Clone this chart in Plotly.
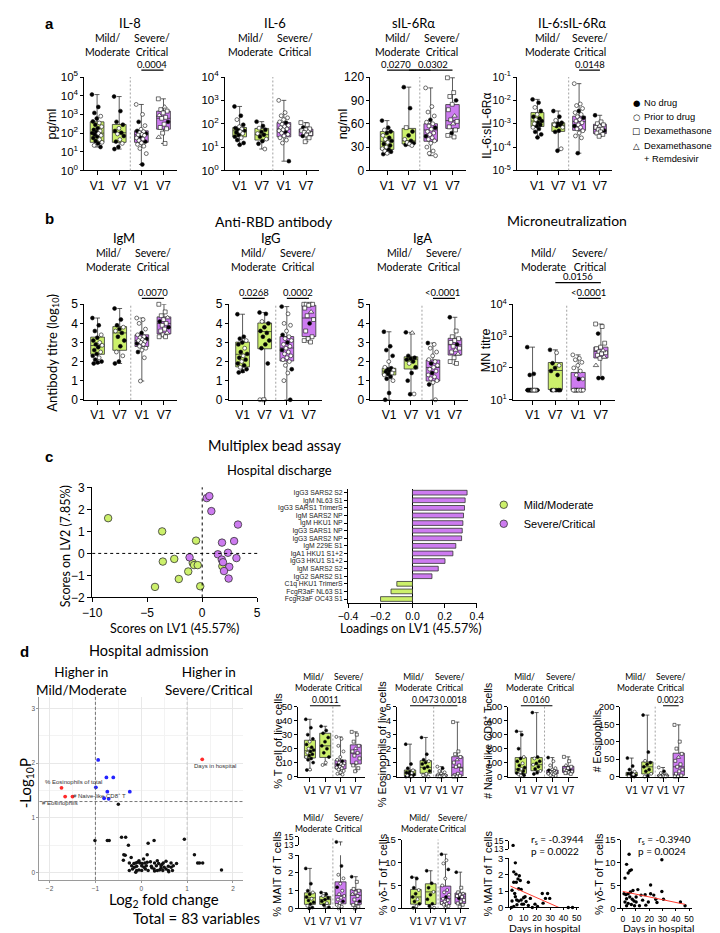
import plotly.graph_objects as go

W, H = 720, 933
GREEN = "#ccf06b"
PURPLE = "#cd7bf0"
ARIAL = "Liberation Sans, Arial, sans-serif"
CAL = "Lato, Open Sans, sans-serif"
GROUPS = ["V1", "V7", "V1", "V7"]

# ================= DATA =================
# box stats per group: (min, q1, median, q3, max); points: (value, treatment)
# treatment: N no drug, P prior to drug, D dexamethasone, R dexamethasone + remdesivir
il8_box = [(18, 32, 100, 400, 11500), (14, 32, 105, 290, 9000), (2.1, 32, 81, 132, 3400), (28, 162, 620, 1500, 6800)]
il8_pts = [
    [(11500,'N'),(2500,'N'),(1200,'N'),(800,'P'),(600,'N'),(420,'N'),(350,'P'),(280,'N'),(220,'P'),(180,'N'),(150,'N'),(130,'P'),(115,'N'),(100,'N'),(95,'P'),(85,'N'),(75,'P'),(65,'N'),(55,'N'),(45,'P'),(38,'N'),(32,'P'),(28,'N'),(22,'P'),(18,'N')],
    [(9000,'N'),(1500,'N'),(400,'N'),(280,'N'),(180,'P'),(130,'N'),(105,'N'),(90,'P'),(70,'N'),(45,'P'),(35,'N'),(28,'P'),(18,'N'),(14,'N')],
    [(3400,'P'),(1000,'P'),(400,'N'),(250,'P'),(160,'P'),(130,'N'),(120,'P'),(105,'P'),(95,'N'),(85,'P'),(80,'P'),(75,'P'),(65,'N'),(55,'P'),(48,'P'),(40,'P'),(35,'N'),(30,'P'),(25,'P'),(20,'P'),(15,'P'),(8,'P'),(2.1,'N')],
    [(6800,'D'),(2500,'R'),(1800,'D'),(1500,'D'),(1200,'D'),(900,'R'),(700,'D'),(620,'D'),(400,'N'),(300,'D'),(200,'D'),(170,'D'),(100,'D'),(60,'R'),(28,'D')],
]
il6_box = [(12.6, 27.5, 50, 69, 550), (8.3, 20, 34, 63, 123), (2.5, 27.5, 59, 112, 1000), (17, 30, 47, 59, 112)]
il6_pts = [
    [(550,'N'),(220,'N'),(150,'P'),(90,'N'),(75,'P'),(65,'N'),(60,'P'),(55,'N'),(50,'N'),(46,'P'),(42,'N'),(38,'P'),(33,'N'),(28,'N'),(25,'P'),(20,'N'),(15,'N'),(12.6,'N')],
    [(123,'N'),(80,'N'),(65,'P'),(55,'N'),(45,'N'),(38,'P'),(34,'N'),(28,'N'),(22,'P'),(18,'N'),(14,'N'),(8.3,'P')],
    [(1000,'P'),(300,'P'),(220,'P'),(180,'P'),(150,'P'),(120,'P'),(110,'N'),(95,'P'),(85,'P'),(75,'P'),(68,'P'),(60,'P'),(55,'P'),(50,'P'),(45,'N'),(40,'P'),(35,'P'),(30,'P'),(25,'P'),(20,'P'),(15,'P'),(2.5,'N')],
    [(112,'D'),(90,'D'),(70,'N'),(60,'D'),(55,'D'),(50,'D'),(46,'R'),(42,'D'),(38,'D'),(33,'D'),(30,'N'),(25,'D'),(17,'D')],
]
sil_box = [(21, 27, 37.5, 50, 64), (32, 34, 38, 54, 107), (19, 37.5, 52, 60, 106), (43, 54, 64, 84.6, 119)]
sil_pts = [
    [(64,'N'),(55,'N'),(52,'P'),(50,'N'),(48,'N'),(45,'P'),(42,'N'),(40,'P'),(38,'N'),(36,'P'),(34,'N'),(32,'N'),(30,'P'),(28,'P'),(27,'N'),(25,'P'),(24,'N'),(22,'P'),(21,'N')],
    [(107,'N'),(80,'N'),(55,'D'),(50,'N'),(45,'N'),(40,'P'),(38,'N'),(36,'P'),(35,'N'),(34,'P'),(33,'N'),(32,'P')],
    [(106,'P'),(82,'P'),(75,'P'),(70,'P'),(65,'N'),(62,'P'),(60,'P'),(57,'P'),(55,'N'),(53,'P'),(50,'P'),(48,'P'),(46,'P'),(44,'N'),(42,'P'),(40,'P'),(38,'P'),(35,'P'),(30,'P'),(25,'P'),(22,'P'),(19,'P')],
    [(119,'D'),(100,'D'),(95,'D'),(90,'N'),(85,'D'),(78,'D'),(70,'R'),(65,'D'),(63,'D'),(60,'R'),(56,'D'),(52,'D'),(48,'N'),(45,'D'),(43,'D')],
]
rat_box = [(2.6e-4, 7.6e-4, 1.3e-3, 3e-3, 1.1e-2), (7e-5, 4.7e-4, 8.7e-4, 1.1e-3, 3.5e-3), (5.5e-5, 5.2e-4, 1.23e-3, 2.1e-3, 5.2e-2), (2.9e-4, 3.8e-4, 5.9e-4, 9.5e-4, 2.3e-3)]
rat_pts = [
    [(1.1e-2,'N'),(8e-3,'N'),(5e-3,'P'),(3.5e-3,'N'),(2.5e-3,'P'),(2e-3,'N'),(1.7e-3,'N'),(1.5e-3,'P'),(1.3e-3,'N'),(1.1e-3,'N'),(1e-3,'P'),(9e-4,'N'),(8e-4,'N'),(7e-4,'P'),(6e-4,'N'),(4.5e-4,'N'),(3.5e-4,'N'),(2.6e-4,'N')],
    [(3.5e-3,'N'),(2e-3,'N'),(1.4e-3,'P'),(1.1e-3,'N'),(1e-3,'N'),(9e-4,'P'),(8.7e-4,'N'),(8e-4,'N'),(7e-4,'P'),(5e-4,'N'),(4.5e-4,'N'),(8.5e-5,'P'),(7e-5,'N')],
    [(5.2e-2,'P'),(7e-3,'P'),(6e-3,'P'),(4.5e-3,'P'),(3.5e-3,'N'),(3e-3,'P'),(2.5e-3,'P'),(2e-3,'P'),(1.8e-3,'N'),(1.5e-3,'P'),(1.3e-3,'P'),(1.1e-3,'P'),(9e-4,'P'),(8e-4,'N'),(7e-4,'P'),(6e-4,'P'),(5e-4,'P'),(4e-4,'P'),(3e-4,'P'),(2.5e-4,'P'),(5.5e-5,'N')],
    [(2.3e-3,'N'),(1.2e-3,'D'),(1e-3,'D'),(9e-4,'D'),(8e-4,'R'),(7e-4,'D'),(6e-4,'D'),(5.5e-4,'D'),(5e-4,'N'),(4.5e-4,'D'),(4e-4,'D'),(3.5e-4,'D'),(2.9e-4,'D')],
]
igm_box = [(1.9, 2.38, 2.84, 3.28, 4.28), (1.9, 2.59, 3.5, 3.83, 4.78), (0.98, 2.79, 3.10, 3.40, 4.28), (3.3, 3.45, 4.0, 4.34, 5.0)]
igm_pts = [
    [(4.28,'N'),(3.9,'N'),(3.6,'N'),(3.4,'P'),(3.25,'N'),(3.1,'N'),(3.0,'P'),(2.9,'N'),(2.85,'P'),(2.75,'N'),(2.6,'N'),(2.5,'P'),(2.4,'N'),(2.3,'N'),(2.2,'P'),(2.1,'N'),(2.0,'N'),(1.95,'N'),(1.9,'N')],
    [(4.78,'N'),(4.2,'N'),(3.9,'N'),(3.8,'P'),(3.7,'N'),(3.6,'P'),(3.5,'N'),(3.3,'N'),(3.1,'N'),(2.8,'N'),(2.5,'P'),(2.3,'P'),(2.0,'N'),(1.9,'N')],
    [(4.28,'P'),(4.2,'P'),(4.0,'P'),(3.7,'P'),(3.5,'N'),(3.4,'P'),(3.3,'P'),(3.25,'P'),(3.2,'N'),(3.15,'P'),(3.1,'P'),(3.05,'P'),(3.0,'P'),(2.95,'N'),(2.9,'P'),(2.8,'P'),(2.7,'P'),(2.6,'P'),(2.5,'N'),(2.2,'P'),(0.98,'P')],
    [(5.0,'D'),(4.6,'D'),(4.4,'D'),(4.3,'R'),(4.2,'D'),(4.1,'N'),(4.0,'D'),(3.9,'D'),(3.8,'N'),(3.7,'D'),(3.6,'D'),(3.5,'R'),(3.4,'D'),(3.3,'D'),(3.3,'D')],
]
igg_box = [(1.43, 1.72, 2.38, 3.02, 4.48), (0, 2.67, 3.57, 4.02, 4.57), (0, 2.03, 2.71, 3.31, 4.88), (3.02, 3.31, 4.28, 4.95, 5.0)]
igg_pts = [
    [(4.48,'N'),(3.3,'N'),(3.2,'N'),(3.1,'P'),(3.0,'N'),(2.9,'N'),(2.7,'P'),(2.5,'N'),(2.4,'N'),(2.3,'P'),(2.2,'N'),(2.1,'N'),(2.0,'P'),(1.9,'N'),(1.8,'N'),(1.7,'P'),(1.6,'N'),(1.5,'N'),(1.43,'N')],
    [(4.57,'N'),(4.5,'N'),(4.1,'P'),(4.0,'N'),(3.8,'N'),(3.6,'N'),(3.5,'N'),(3.3,'N'),(3.1,'N'),(2.9,'N'),(2.7,'N'),(1.9,'N'),(0,'D'),(0,'P')],
    [(4.88,'N'),(4.5,'P'),(4.0,'P'),(3.9,'P'),(3.6,'P'),(3.4,'N'),(3.3,'P'),(3.2,'P'),(3.1,'P'),(3.0,'N'),(2.9,'P'),(2.8,'P'),(2.7,'P'),(2.6,'N'),(2.5,'P'),(2.4,'P'),(2.3,'P'),(2.2,'P'),(2.1,'P'),(2.0,'P'),(1.8,'P'),(1.6,'N'),(1.4,'P'),(1.0,'P'),(0,'N')],
    [(5.0,'D'),(5.0,'D'),(5.0,'D'),(5.0,'D'),(4.95,'D'),(4.8,'D'),(4.6,'R'),(4.4,'D'),(4.2,'D'),(4.0,'N'),(3.6,'D'),(3.3,'D'),(3.2,'D'),(3.1,'D'),(3.02,'D')],
]
iga_box = [(0, 1.3, 1.5, 1.65, 3.56), (0.29, 1.61, 2.1, 2.25, 3.53), (0, 0.98, 1.69, 2.08, 2.97), (1.86, 2.34, 2.88, 3.22, 4.32)]
iga_pts = [
    [(3.56,'N'),(2.8,'N'),(2.6,'N'),(2.3,'N'),(2.0,'P'),(1.7,'P'),(1.65,'N'),(1.6,'N'),(1.55,'P'),(1.5,'N'),(1.45,'N'),(1.4,'P'),(1.35,'N'),(1.3,'P'),(1.2,'N'),(1.1,'N'),(1.0,'P'),(0.35,'N'),(0,'N')],
    [(3.53,'N'),(3.5,'R'),(2.3,'N'),(2.2,'N'),(2.15,'N'),(2.1,'N'),(2.0,'N'),(1.9,'P'),(1.7,'N'),(1.4,'N'),(1.0,'N'),(0.3,'P'),(0.29,'N')],
    [(2.97,'N'),(2.9,'P'),(2.7,'P'),(2.5,'P'),(2.3,'P'),(2.1,'P'),(2.0,'P'),(1.9,'N'),(1.8,'P'),(1.7,'P'),(1.6,'P'),(1.5,'P'),(1.4,'N'),(1.3,'P'),(1.2,'P'),(1.1,'P'),(1.0,'P'),(0.9,'P'),(0.8,'N'),(0,'P')],
    [(4.32,'N'),(3.6,'D'),(3.3,'D'),(3.2,'D'),(3.1,'D'),(3.0,'D'),(2.9,'N'),(2.8,'D'),(2.7,'D'),(2.6,'R'),(2.5,'D'),(2.4,'R'),(2.2,'D'),(2.0,'D'),(1.9,'D')],
]
mn_box = [(20, 20, 20, 20, 450), (20, 21, 83, 148, 370), (20, 20, 20, 72, 257), (48, 205, 330, 450, 2400)]
mn_pts = [
    [(450,'N'),(65,'N'),(60,'N'),(20,'N'),(20,'P'),(20,'N'),(20,'P'),(20,'N'),(20,'N'),(20,'P'),(20,'N'),(20,'P'),(20,'N'),(20,'N'),(20,'P'),(20,'N')],
    [(370,'N'),(300,'P'),(140,'N'),(120,'P'),(100,'N'),(80,'N'),(60,'N'),(20,'P'),(20,'N'),(20,'N'),(20,'N'),(20,'N')],
    [(257,'P'),(200,'P'),(180,'P'),(150,'P'),(120,'P'),(100,'P'),(80,'P'),(60,'P'),(45,'P'),(45,'N'),(20,'P'),(20,'P'),(20,'N'),(20,'P'),(20,'P'),(20,'N'),(20,'P'),(20,'P'),(20,'N'),(20,'P'),(20,'N'),(20,'P')],
    [(2400,'D'),(2000,'D'),(1200,'N'),(600,'D'),(450,'D'),(400,'D'),(350,'R'),(320,'D'),(300,'D'),(280,'D'),(250,'D'),(220,'R'),(200,'D'),(120,'R'),(48,'N'),(48,'N')],
]
# panel c
mm_lv1 = [-8.55, -3.64, -0.56, -3.58, -2.54, -0.86, -0.74, -0.41, -1.27, -2.13, -4.29, -0.18, 1.83]
mm_lv2 = [1.60, 1.00, 0.58, -0.37, -0.25, -0.43, -0.53, -0.53, -0.82, -1.16, -1.52, -1.49, -0.58]
sc_lv1 = [0.41, 0.65, 0.83, 3.25, 1.80, 2.90, 1.42, 2.34, 1.78, 1.89, 3.11, 2.46, 1.98, 2.40, -1.15]
sc_lv2 = [2.51, 2.60, 1.92, 1.31, 0.49, 0.56, -0.04, 0.03, -0.28, -0.40, -0.21, -0.61, -0.80, -1.14, -0.18]
load_labels = ["IgG3 SARS2 S2", "IgM NL63 S1", "IgG3 SARS1 TrimerS", "IgM SARS2 NP", "IgM HKU1 NP", "IgG3 SARS1 NP",
               "IgG3 SARS2 NP", "IgM 229E S1", "IgA1 HKU1 S1+2", "IgG3 HKU1 S1+2", "IgM SARS2 S2", "IgG2 SARS2 S1",
               "C1q HKU1 TrimerS", "FcgR3aF NL63 S1", "FcgR3aF OC43 S1"]
load_vals = [0.339, 0.327, 0.323, 0.317, 0.313, 0.309, 0.305, 0.269, 0.251, 0.202, 0.160, 0.121, -0.097, -0.133, -0.198]
# panel d volcano
blue_fc = [-0.94, -0.76, -0.61, -0.99, -0.74, -0.25, -0.81, -0.71]
blue_p = [2.06, 1.74, 1.74, 1.56, 1.48, 1.48, 1.36, 1.35]
red_fc = [-1.74, -1.50, -1.66, 1.33]
red_p = [1.55, 1.39, 1.39, 2.07]
red_names = ["% Eosinophils of total", "# Naive-like CD8<sup>+</sup> T", "# Eosinophils", "Days in hospital"]
black_fc = [-0.50, -1.01, -0.74, -0.70, -0.43, -0.34, -0.28, 0.15, 0.28, 0.94, -0.38, -0.35, 0.13, 1.16, -0.39, 1.23, 1.27, 1.34, 1.75,
            -0.26, -0.16, -0.12, -0.08, -0.03, 0.02, 0.08, 0.13, 0.29, 0.38, 0.48, 0.65, 0.77,
            -0.05, 0.35, 0.54,
            -0.21, -0.10, 0.01, 0.11, 0.22, 0.33, 0.43, 0.59, 0.70,
            -0.15, 0.06, 0.23, 0.50, 0.65,
            -0.26, -0.10, -0.05, 0.01, 0.15, 0.29, 0.35, 0.40, 0.47, 0.59, 0.68,
            -0.19, 0.09, 0.28, 0.43, 0.54,
            -0.22, 0.05, 0.20, 0.45, 0.60, -0.12]
black_p = [1.25, 0.59, 0.59, 0.59, 0.65, 0.65, 0.50, 0.54, 0.59, 0.61, 0.33, 0.32, 0.33, 0.33, 0.23, 0.18, 0.18, 0.18, 0.05,
           0.18, 0.17, 0.18, 0.19, 0.18, 0.17, 0.18, 0.19, 0.18, 0.17, 0.18, 0.18, 0.17,
           0.22, 0.22, 0.21,
           0.13, 0.12, 0.13, 0.13, 0.12, 0.13, 0.13, 0.12, 0.13,
           0.10, 0.10, 0.09, 0.10, 0.10,
           0.04, 0.04, 0.05, 0.04, 0.04, 0.03, 0.04, 0.05, 0.04, 0.04, 0.04,
           0.07, 0.07, 0.07, 0.08, 0.07,
           0.28, 0.25, 0.20, 0.15, 0.02, 0.01]
# panel d boxplots
tc_box = [(4.7, 13.3, 18.5, 26, 41), (8.3, 13.7, 22, 31, 36), (1.4, 5.5, 9, 11.8, 28.4), (3.8, 9, 16.8, 22.7, 32)]
tc_pts = [
    [(41,'N'),(35,'N'),(30,'N'),(27,'N'),(25,'P'),(23,'N'),(21,'N'),(20,'P'),(19,'N'),(18,'N'),(17,'P'),(16,'N'),(15,'N'),(14,'P'),(13,'N'),(12,'N'),(10,'N'),(5,'P'),(4.7,'N')],
    [(36,'N'),(33,'N'),(31,'N'),(28,'N'),(25,'N'),(22,'N'),(20,'N'),(17,'N'),(14,'N'),(10,'P'),(8.3,'P')],
    [(28.4,'P'),(27,'P'),(22,'P'),(18,'P'),(14,'P'),(12,'P'),(11,'N'),(10,'P'),(9.5,'P'),(9,'P'),(8.5,'N'),(8,'P'),(7,'P'),(6.5,'P'),(6,'P'),(5,'P'),(4,'P'),(3,'P'),(2,'P'),(1.4,'P')],
    [(32,'D'),(30,'D'),(25,'D'),(22,'D'),(20,'R'),(18,'D'),(17,'D'),(15,'D'),(13,'D'),(10,'D'),(8,'D'),(6,'D'),(3.8,'D')],
]
eos_box = [(0, 0.07, 0.24, 0.47, 2.32), (0, 0.24, 0.66, 1.14, 2.8), (0, 0, 0.05, 0.14, 0.71), (0, 0.05, 0.66, 1.42, 3.9)]
eos_pts = [
    [(2.32,'N'),(0.9,'N'),(0.6,'N'),(0.45,'P'),(0.35,'N'),(0.3,'N'),(0.25,'P'),(0.2,'N'),(0.15,'N'),(0.1,'N'),(0.08,'P'),(0.05,'N'),(0.02,'N'),(0,'N'),(0,'P')],
    [(2.8,'N'),(1.6,'N'),(1.2,'N'),(1.1,'P'),(1.0,'N'),(0.9,'N'),(0.7,'N'),(0.6,'N'),(0.4,'N'),(0.2,'P'),(0.1,'P'),(0,'P')],
    [(0.71,'P'),(0.6,'N'),(0.4,'P'),(0.3,'P'),(0.2,'P'),(0.15,'P'),(0.12,'P'),(0.1,'N'),(0.08,'P'),(0.05,'P'),(0.04,'P'),(0.02,'P'),(0,'P'),(0,'P'),(0,'N'),(0,'P')],
    [(3.9,'D'),(1.8,'D'),(1.6,'D'),(1.4,'D'),(1.2,'R'),(1.0,'D'),(0.8,'D'),(0.7,'D'),(0.5,'D'),(0.2,'D'),(0.1,'D'),(0.05,'D'),(0,'D'),(0,'D')],
]
naive_box = [(7, 23, 54, 136, 324), (19, 42, 85, 136, 458), (5, 19, 30, 47, 136), (19, 30, 47, 73, 141)]
naive_pts = [
    [(324,'N'),(300,'N'),(200,'N'),(140,'P'),(130,'N'),(110,'N'),(95,'P'),(80,'N'),(65,'N'),(55,'P'),(50,'N'),(40,'N'),(30,'P'),(25,'N'),(20,'N'),(15,'P'),(10,'N'),(7,'P')],
    [(458,'N'),(140,'N'),(130,'P'),(110,'N'),(95,'N'),(85,'P'),(70,'N'),(55,'N'),(40,'P'),(30,'N'),(19,'N')],
    [(136,'N'),(110,'P'),(80,'P'),(60,'P'),(50,'P'),(45,'N'),(40,'P'),(35,'P'),(32,'P'),(30,'P'),(28,'N'),(25,'P'),(22,'P'),(20,'P'),(15,'P'),(10,'P'),(5,'P')],
    [(141,'D'),(110,'D'),(80,'R'),(70,'D'),(60,'D'),(50,'D'),(45,'N'),(40,'D'),(35,'D'),(30,'D'),(25,'D'),(19,'D')],
]
neos_box = [(0, 1.9, 5.6, 12, 53), (0, 7.5, 28, 42, 176), (0, 0, 1.9, 4.7, 26), (0, 3.8, 28, 67, 148)]
neos_pts = [
    [(53,'N'),(30,'N'),(20,'N'),(14,'P'),(10,'N'),(8,'N'),(6,'P'),(5,'N'),(4,'N'),(2,'N'),(1,'P'),(0,'N'),(0,'N')],
    [(176,'N'),(70,'N'),(45,'P'),(40,'N'),(35,'N'),(28,'N'),(20,'N'),(15,'N'),(8,'P'),(2,'N'),(0,'P')],
    [(26,'P'),(15,'N'),(10,'P'),(6,'P'),(4,'P'),(3,'P'),(2,'P'),(1.5,'N'),(1,'P'),(0.5,'P'),(0,'P'),(0,'P'),(0,'N')],
    [(148,'D'),(100,'D'),(80,'D'),(65,'D'),(55,'R'),(45,'D'),(35,'D'),(28,'D'),(20,'D'),(15,'D'),(8,'D'),(3,'D'),(0,'D'),(0,'D')],
]
mait_box = [(0, 0.23, 0.6, 0.88, 2.26), (0.07, 0.23, 0.5, 0.68, 0.9), (0, 0.26, 0.74, 1.5, 13.8), (0, 0.23, 0.74, 1.06, 1.79)]
mait_pts = [
    [(2.26,'N'),(1.4,'N'),(1.0,'N'),(0.9,'P'),(0.8,'N'),(0.65,'N'),(0.55,'P'),(0.45,'N'),(0.35,'N'),(0.25,'N'),(0.15,'P'),(0.05,'N'),(0,'N')],
    [(0.9,'N'),(0.8,'N'),(0.7,'P'),(0.6,'N'),(0.5,'N'),(0.4,'N'),(0.3,'P'),(0.2,'N'),(0.07,'N')],
    [(13.8,'N'),(2.4,'N'),(1.9,'P'),(1.7,'P'),(1.4,'P'),(1.2,'N'),(1.0,'P'),(0.8,'P'),(0.7,'P'),(0.6,'P'),(0.5,'P'),(0.4,'N'),(0.3,'P'),(0.2,'P'),(0.1,'P'),(0,'P')],
    [(1.79,'N'),(1.5,'D'),(1.1,'D'),(1.0,'D'),(0.9,'D'),(0.8,'R'),(0.7,'D'),(0.5,'D'),(0.4,'N'),(0.3,'D'),(0.2,'D'),(0.1,'D'),(0,'D')],
]
gd_box = [(0.14, 0.93, 2.5, 4.14, 6.8), (0.14, 0.86, 3.6, 5.36, 8.2), (0.1, 0.86, 2.1, 4.86, 11.8), (0.36, 1.07, 2.5, 3.36, 7.9)]
gd_pts = [
    [(6.8,'N'),(6.5,'N'),(4.5,'N'),(4.0,'P'),(3.2,'N'),(2.5,'N'),(2.0,'P'),(1.5,'N'),(1.0,'N'),(0.5,'P'),(0.14,'N')],
    [(8.2,'N'),(5.5,'N'),(4.5,'N'),(3.6,'P'),(3.0,'N'),(2.0,'N'),(1.0,'N'),(0.5,'N'),(0.14,'P')],
    [(11.8,'N'),(10.5,'P'),(9.8,'P'),(8.5,'N'),(6.5,'P'),(5,'P'),(4,'P'),(3.5,'P'),(3,'P'),(2.5,'N'),(2.1,'P'),(1.8,'P'),(1.5,'P'),(1.2,'P'),(1,'P'),(0.8,'P'),(0.5,'P'),(0.1,'P')],
    [(7.9,'N'),(4.5,'D'),(3.5,'D'),(3.2,'R'),(3.0,'D'),(2.7,'D'),(2.5,'D'),(2.2,'N'),(1.8,'D'),(1.5,'D'),(1.1,'D'),(0.8,'D'),(0.36,'D')],
]
mait_days = [2, 3.7, 2.5, 4.2, 6.7, 5.7, 7.4, 2.5, 4.4, 13.5, 8.1, 1.2, 6.2, 11, 9.9, 4.7, 6.2, 8.1, 24, 28, 29.6, 26.4, 24.6,
             18.5, 20.4, 16.5, 13.5, 2.5, 0.7, 4.9, 9.9, 11.8, 43.6, 46.8, 1.2, 3.7, 15, 8.6, 3.2]
mait_pct = [13.9, 2.72, 2.17, 2.03, 1.93, 1.74, 1.64, 1.54, 1.54, 1.54, 1.10, 1.05, 1.14, 0.65, 0.59, 0.45, 0.39, 0.45, 0.85, 0.85,
            0.55, 0.55, 0.26, 0.20, 0.06, 0.0, 0.12, 0.06, 0.0, 0.16, 0.20, 0.36, 0.0, 0.0, 0.39, 0.65, 0.55, 0.20, 0.85]
mait_fit = (1.30, -0.0356)   # intercept, slope
gd_days = [1.7, 2.9, 4.8, 6.5, 5.3, 4.1, 29.5, 21, 1, 2.4, 4.1, 5.8, 7.7, 11.4, 2.9, 5.3, 7.2, 10.1, 13.8, 16.9, 21, 24.9, 29.5,
           30.7, 1.7, 4.1, 6.5, 8.9, 12.6, 17.4, 2.9, 43.5, 47, 15, 19.3, 8.5, 23.4, 25.8, 10.1]
gd_pct = [6.6, 9.6, 11.8, 8.4, 8.2, 7.7, 10.6, 5.1, 3.2, 3.0, 3.2, 3.6, 3.9, 4.1, 2.1, 2.5, 2.0, 2.5, 2.9, 3.0, 3.2, 2.0, 3.7,
          2.0, 1.4, 1.1, 0.86, 0.57, 0.57, 0.71, 0.57, 1.4, 0.57, 1.8, 1.4, 1.6, 2.9, 1.3, 1.4]
gd_fit = (3.7, -0.060)

# ================= BUILD =================
fig = go.Figure()
LAY, ANN, SHP = {}, [], []
_n = [0]


def fx(p):
    return p / W


def fy(p):
    return 1 - p / H


def axes(x0, x1, y0, y1, xo, yo):
    _n[0] += 1
    s = "" if _n[0] == 1 else str(_n[0])
    LAY["xaxis" + s] = dict(domain=[fx(x0), fx(x1)], anchor="y" + s, **xo)
    LAY["yaxis" + s] = dict(domain=[fy(y1), fy(y0)], anchor="x" + s, **yo)
    return "x" + s, "y" + s


def ax_style(size=12, **kw):
    d = dict(showline=True, linecolor="black", linewidth=1, ticks="outside", ticklen=4, tickwidth=1,
             tickcolor="black", showgrid=False, zeroline=False, fixedrange=True, tickangle=0,
             tickfont=dict(family=ARIAL, size=size, color="black"))
    d.update(kw)
    return d


def log_style(lo, hi, size=11.5):
    return ax_style(size, type="log", range=[lo, hi], tickmode="array", ticklen=3,
                    tickvals=[10.0 ** e for e in range(lo, hi + 1)],
                    ticktext=["10<sup>%d</sup>" % e for e in range(lo, hi + 1)])


def note(x, y, s, size=11, family=CAL, xref="paper", xanchor="center", yanchor="middle", angle=0, color="black"):
    ANN.append(dict(x=fx(x) if xref == "paper" else x, y=fy(y), xref=xref, yref="paper", text=s,
                    showarrow=False, xanchor=xanchor, yanchor=yanchor, textangle=angle,
                    font=dict(family=family, size=size, color=color), align="center"))


SYM = {"N": ("circle", "black"), "P": ("circle", "white"), "D": ("square", "white"), "R": ("triangle-up", "white")}


def jit(k, bw):
    return ((k * 0.618034) % 1.0 - 0.5) * bw * 0.75


def draw_boxes(box, pts, xr, yr, bw, ms, keep=None):
    for i, (lo, q1, md, q3, hi) in enumerate(box):
        fig.add_trace(go.Box(x=[i], lowerfence=[lo], q1=[q1], median=[md], q3=[q3], upperfence=[hi],
                             fillcolor=GREEN if i < 2 else PURPLE, line=dict(color="#333333", width=0.8),
                             width=bw, whiskerwidth=0.35, boxpoints=False, xaxis=xr, yaxis=yr,
                             showlegend=False, hoverinfo="skip"))
    for code, (sym, col) in SYM.items():
        xs, ys = [], []
        for i, grp in enumerate(pts):
            for k, (v, c) in enumerate(grp):
                if c == code and (keep is None or keep(v)):
                    xs.append(i + jit(k, bw))
                    ys.append(v)
        if xs:
            fig.add_trace(go.Scatter(x=xs, y=ys, mode="markers", xaxis=xr, yaxis=yr, cliponaxis=False,
                                     marker=dict(symbol=sym, size=ms + (0.8 if code == "R" else 0), color=col,
                                                 line=dict(color="#111111", width=0.6)),
                                     showlegend=False, hoverinfo="skip"))


def x_style(ax_px, g0, g3, tick):
    sp = (g3 - g0) / 3.0
    xo = ax_style(tick, range=[-(g0 - ax_px) / sp, 3.6], tickmode="array", tickvals=[0, 1, 2, 3], ticktext=GROUPS)
    return xo, g3 + 0.6 * sp


def headers(xr, y, size, mx=0.5):
    note(mx, y, "Mild/<br>Moderate", size, xref=xr)
    note(2.5, y, "Severe/<br>Critical", size, xref=xr)


def pbar(xr, ga, gb, label, ly, tx=None, size=9.5):
    SHP.append(dict(type="line", xref=xr, yref="paper", x0=ga, x1=gb, y0=fy(ly), y1=fy(ly),
                    line=dict(color="black", width=1.2)))
    note(tx if tx is not None else (ga + gb) / 2.0, ly + 1.5, label, size, xref=xr, yanchor="bottom")


def divider(xr, y_top, y_bot):
    SHP.append(dict(type="line", xref=xr, yref="paper", x0=1.5, x1=1.5, y0=fy(y_bot), y1=fy(y_top),
                    line=dict(color="#8a8a8a", width=0.8, dash="2px,2px")))


def box_panel(box, pts, ax_px, g0, g3, ytop, ybot, yo, tick=12, bw=0.62, ms=3.9, head_y=None,
              head_size=10.5, pvals=(), psize=9.5, mx=0.5):
    xo, x1 = x_style(ax_px, g0, g3, tick)
    xr, yr = axes(ax_px, x1, ytop, ybot, xo, yo)
    draw_boxes(box, pts, xr, yr, bw, ms)
    divider(xr, ytop, ybot)
    if head_y:
        headers(xr, head_y, head_size, mx)
    for pv in pvals:
        pbar(xr, *pv, size=psize)
    return xr, yr


# ---------- panel a ----------
note(32, 8, "<b>a</b>", 15, ARIAL)
box_panel(il8_box, il8_pts, 68, 81, 149, 62, 157, log_style(0, 5), head_y=29.5, pvals=[(2, 3, "0.0004", 55)])
box_panel(il6_box, il6_pts, 212, 227, 295, 62, 157, log_style(0, 4), head_y=29.5)
box_panel(sil_box, sil_pts, 361, 378, 445, 62, 157, ax_style(12, range=[0, 120], dtick=30, ticklen=3), head_y=29.5,
          pvals=[(0, 2, "0.0270", 55, 0.4), (1, 3, "0.0302", 55, 2.1)])
box_panel(rat_box, rat_pts, 511, 532, 596, 62, 157, log_style(-5, -1, 10.5), head_y=29.5, pvals=[(2, 3, "0.0148", 55)])
note(115, 7, "IL-8", 13)
note(263.5, 7, "IL-6", 13)
note(405, 7, "sIL-6Rα", 13)
note(567, 7, "IL-6:sIL-6Rα", 13)
note(35, 110, "pg/ml", 12.5, ARIAL, angle=-90)
note(333, 110, "ng/ml", 12.5, ARIAL, angle=-90)
note(481, 112, "IL-6:sIL-6Rα", 12, ARIAL, angle=-90)
for yy, g, t in [(88, "●", "No drug"), (102.5, "○", "Prior to drug"), (117, "□", "Dexamethasone"), (132, "△", "Dexamethasone")]:
    note(633, yy, g, 8.5, "DejaVu Sans")
    note(639, yy, t, 9.3, ARIAL, xanchor="left")
note(639, 145.5, "+ Remdesivir", 9.3, ARIAL, xanchor="left")

# ---------- panel b ----------
note(32, 206, "<b>b</b>", 15, ARIAL)
lin5 = dict(range=[0, 5], dtick=1, ticklen=3)
box_panel(igm_box, igm_pts, 68, 81.5, 149.5, 293, 390, ax_style(12, **lin5), head_y=247.5, pvals=[(2, 3, "0.0070", 287)])
box_panel(igg_box, igg_pts, 216, 230, 298, 293, 390, ax_style(12, **lin5), head_y=247.5,
          pvals=[(0, 1, "0.0268", 287), (2, 3, "0.0002", 287)])
box_panel(iga_box, iga_pts, 361, 380, 447.5, 293, 390, ax_style(12, **lin5), head_y=247.5,
          pvals=[(2, 3, "<0.0001", 287, 2.45)])
box_panel(mn_box, mn_pts, 507, 527, 597, 293, 390, log_style(1, 4, 11), head_y=247.5,
          pvals=[(1, 3, "0.0156", 271, 2.0), (2, 3, "<0.0001", 287, 2.45)])
note(262, 209, "Anti-RBD antibody", 14)
note(562, 208, "Microneutralization", 14)
note(109, 226, "IgM", 13)
note(259.5, 226, "IgG", 13)
note(414, 226, "IgA", 13)
note(35, 342, "Antibody titre (log<sub>10</sub>)", 13, angle=-90)
note(479, 340, "MN titre", 12.5, ARIAL, angle=-90)

# ---------- panel c ----------
note(32, 448, "<b>c</b>", 15, ARIAL)
note(263, 437, "Multiplex bead assay", 14.5)
note(267.5, 461, "Hospital discharge", 13)
xr, yr = axes(76, 245, 479, 591, ax_style(12, range=[-10, 5], tick0=-10, dtick=5),
              ax_style(12, range=[-2, 3], tick0=-2, dtick=1))
fig.add_trace(go.Scatter(x=mm_lv1, y=mm_lv2, mode="markers", name="Mild/Moderate", xaxis=xr, yaxis=yr,
                         marker=dict(color=GREEN, size=7.5, line=dict(color="#333333", width=0.8)), hoverinfo="skip"))
fig.add_trace(go.Scatter(x=sc_lv1, y=sc_lv2, mode="markers", name="Severe/Critical", xaxis=xr, yaxis=yr,
                         marker=dict(color=PURPLE, size=7.5, line=dict(color="#333333", width=0.8)), hoverinfo="skip"))
SHP.append(dict(type="line", xref=xr, yref=yr + " domain", x0=0, x1=0, y0=0, y1=1,
                line=dict(color="black", width=1, dash="dot")))
SHP.append(dict(type="line", xref=xr + " domain", yref=yr, x0=0, x1=1, y0=0, y1=0,
                line=dict(color="black", width=1, dash="dot")))
note(48, 539, "Scores on LV2 (7.85%)", 12.5, angle=-90)
note(160, 623, "Scores on LV1 (45.57%)", 12.5)

xr, yr = axes(338, 470, 480.6, 596.4,
              ax_style(10.5, range=[-0.4, 0.4], tick0=-0.4, dtick=0.2, tickformat=".1f", zeroline=True,
                       zerolinecolor="black", zerolinewidth=1),
              ax_style(7, type="category", categoryorder="array", categoryarray=load_labels,
                       tickmode="array", tickvals=load_labels, ticktext=load_labels,
                       autorange="reversed", ticklen=3, tickfont=dict(family=ARIAL, size=6.8, color="#222")))
fig.add_trace(go.Bar(x=load_vals, y=load_labels, orientation="h", xaxis=xr, yaxis=yr, width=0.62,
                     marker=dict(color=[PURPLE if v > 0 else GREEN for v in load_vals],
                                 line=dict(color="#333333", width=0.8)),
                     showlegend=False, hoverinfo="skip"))
note(403, 623, "Loadings on LV1 (45.57%)", 12.5)

# ---------- panel d volcano ----------
note(7, 646, "<b>d</b>", 15, ARIAL)
note(134, 645, "Hospital admission", 14.5)
note(65, 675.5, "Higher in<br>Mild/Moderate", 13.5)
note(196, 675.5, "Higher in<br>Severe/Critical", 13.5)
vstyle = dict(showgrid=True, gridcolor="#e8e8e8", gridwidth=0.8, showline=True, linecolor="#9a9a9a",
              ticks="outside", ticklen=2, tickcolor="#9a9a9a", zeroline=False, fixedrange=True,
              tickfont=dict(family=ARIAL, size=6.5, color="#555555"),
              minor=dict(dtick=0.5, showgrid=True, gridcolor="#f3f3f3"))
xr, yr = axes(22, 230, 692, 878, dict(range=[-2.22, 2.21], tick0=0, dtick=1, **vstyle),
              dict(range=[-0.13, 3.21], tick0=0, dtick=1, **vstyle))
fig.add_trace(go.Scatter(x=black_fc, y=black_p, mode="markers", xaxis=xr, yaxis=yr,
                         marker=dict(color="#111111", size=3.5), showlegend=False, hoverinfo="skip"))
fig.add_trace(go.Scatter(x=blue_fc, y=blue_p, mode="markers", xaxis=xr, yaxis=yr,
                         marker=dict(color="#2424ff", size=3.8), showlegend=False, hoverinfo="skip"))
fig.add_trace(go.Scatter(x=red_fc, y=red_p, mode="markers", xaxis=xr, yaxis=yr,
                         marker=dict(color="#ff2a2a", size=3.8), showlegend=False, hoverinfo="skip"))
for xv, col in [(-1, "#555555"), (1, "#bbbbbb")]:
    SHP.append(dict(type="line", xref=xr, yref=yr + " domain", x0=xv, x1=xv, y0=0, y1=1,
                    line=dict(color=col, width=0.8, dash="3px,2px")))
SHP.append(dict(type="line", xref=xr + " domain", yref=yr, x0=0, x1=1, y0=1.3, y1=1.3,
                line=dict(color="#555555", width=0.8, dash="3px,2px")))
lab_off = [(0.27, 0.10), (0.60, 0.03), (-0.11, -0.12), (0.28, -0.12)]
for fc, pv, nm, (dx, dy) in zip(red_fc, red_p, red_names, lab_off):
    ANN.append(dict(x=fc + dx, y=pv + dy, xref=xr, yref=yr, text=nm, showarrow=False,
                    font=dict(family=ARIAL, size=6, color="#333333")))
note(9, 780, "-Log<sub>10</sub>P", 15, angle=-90)
note(150, 898, "Log<sub>2</sub> fold change", 15)
note(183, 917, "Total = 83 variables", 15)

# ---------- panel d boxplots top row ----------
dk = dict(tick=10, bw=0.72, ms=3.0, head_y=677.5, head_size=8.6, psize=8.5, mx=0.25)
box_panel(tc_box, tc_pts, 287, 299, 346, 702, 773, ax_style(9.5, range=[0, 50], dtick=10, ticklen=3),
          pvals=[(0, 2, "0.0011", 701)], **dk)
box_panel(eos_box, eos_pts, 388, 401.5, 450, 702, 773, ax_style(9.5, range=[0, 5], dtick=1, ticklen=3),
          pvals=[(0, 2, "0.0473", 701, 0.95), (2, 3, "0.0018", 701, 2.75)], **dk)
box_panel(naive_box, naive_pts, 502, 515, 563.5, 702, 773, ax_style(9.5, range=[0, 500], dtick=100, ticklen=3),
          pvals=[(0, 2, "0.0160", 701)], **dk)
box_panel(neos_box, neos_pts, 617, 628.5, 676.7, 702, 773, ax_style(9.5, range=[0, 200], dtick=50, ticklen=3),
          pvals=[(2, 3, "0.0023", 701)], **dk)
note(266, 737, "% T cell of live cells", 11, ARIAL, angle=-90)
note(373, 740, "% Eosinophils of live cells", 11, ARIAL, angle=-90)
note(480, 737, "# Naive-like CD8<sup>+</sup> T cells", 10.5, ARIAL, angle=-90)
note(593, 737, "# Eosinophils", 10.5, ARIAL, angle=-90)

# ---------- panel d bottom row ----------
# MAIT box plot with broken axis
xo, x1 = x_style(288, 299, 346, 10)
xr, yr = axes(288, x1, 853, 907, xo, ax_style(9.5, range=[0, 3], dtick=1, ticklen=3))
draw_boxes(mait_box, mait_pts, xr, yr, 0.72, 3.0, keep=lambda v: v <= 3)
headers(xr, 821, 8.6, 0.25)
SHP.append(dict(type="line", xref=xr, yref="paper", x0=1.5, x1=1.5, y0=fy(907), y1=fy(834),
                line=dict(color="#8a8a8a", width=0.8, dash="2px,2px")))
xo_h = dict(visible=False, range=xo["range"], fixedrange=True)
xr2, yr2 = axes(288, x1, 834, 843, xo_h,
                ax_style(8.5, range=[13, 15], tickmode="array", tickvals=[13, 15], ticklen=3))
draw_boxes(mait_box, mait_pts, xr2, yr2, 0.72, 3.0, keep=lambda v: v >= 13)
note(265, 872, "% MAIT of T cells", 11, ARIAL, angle=-90)

box_panel(gd_box, gd_pts, 393, 407.5, 453, 837, 907, ax_style(9.5, range=[0, 15], dtick=5, ticklen=3),
          tick=10, bw=0.72, ms=3.0, head_y=821, head_size=8.6, mx=0.25)
note(374, 872, "% γδ-T of T cells", 11, ARIAL, angle=-90)

# MAIT vs days scatter (broken axis)
sx = ax_style(8.5, range=[-1, 52], tick0=0, dtick=10, ticklen=2)
xr, yr = axes(503, 575, 856, 906, sx, ax_style(9.5, range=[0, 3], dtick=1, ticklen=3))
lo_d = [d for d, p in zip(mait_days, mait_pct) if p <= 3]
lo_p = [p for p in mait_pct if p <= 3]
fig.add_trace(go.Scatter(x=lo_d, y=lo_p, mode="markers", xaxis=xr, yaxis=yr, cliponaxis=False,
                         marker=dict(color="black", size=3.4), showlegend=False, hoverinfo="skip"))
b0, b1 = mait_fit
x_end = -b0 / b1
fig.add_trace(go.Scatter(x=[0, x_end], y=[b0, b0 + b1 * x_end], mode="lines", xaxis=xr, yaxis=yr,
                         line=dict(color="#ff3b2f", width=1), showlegend=False, hoverinfo="skip"))
xr2, yr2 = axes(503, 575, 838, 847, dict(visible=False, range=[-1, 52], fixedrange=True),
                ax_style(8.5, range=[13, 15], tickmode="array", tickvals=[13, 15], ticklen=3))
hi_d = [d for d, p in zip(mait_days, mait_pct) if p >= 13]
hi_p = [p for p in mait_pct if p >= 13]
fig.add_trace(go.Scatter(x=hi_d, y=hi_p, mode="markers", xaxis=xr2, yaxis=yr2, cliponaxis=False,
                         marker=dict(color="black", size=3.4), showlegend=False, hoverinfo="skip"))
note(523, 837, "r<sub>s</sub> = -0.3944", 10, xanchor="left")
note(523, 849, "p = 0.0022", 10, xanchor="left")
note(481, 872, "% MAIT of T cells", 11, ARIAL, angle=-90)
note(539, 926.8, "Days in hospital", 10.3)

# γδ vs days scatter
xr, yr = axes(618, 690, 837, 907, sx, ax_style(9.5, range=[0, 15], dtick=5, ticklen=3))
fig.add_trace(go.Scatter(x=gd_days, y=gd_pct, mode="markers", xaxis=xr, yaxis=yr, cliponaxis=False,
                         marker=dict(color="black", size=3.4), showlegend=False, hoverinfo="skip"))
c0, c1 = gd_fit
gx_end = max(gd_days)
fig.add_trace(go.Scatter(x=[0, gx_end], y=[c0, c0 + c1 * gx_end], mode="lines", xaxis=xr, yaxis=yr,
                         line=dict(color="#ff3b2f", width=1), showlegend=False, hoverinfo="skip"))
note(633, 837, "r<sub>s</sub> = -0.3940", 10, xanchor="left")
note(633, 849, "p = 0.0024", 10, xanchor="left")
note(595, 872, "% γδ-T of T cells", 11, ARIAL, angle=-90)
note(656, 926.8, "Days in hospital", 10.3)

fig.update_layout(**LAY)
fig.update_layout(
    width=W, height=H, margin=dict(l=0, r=0, t=0, b=0),
    paper_bgcolor="white", plot_bgcolor="white",
    annotations=ANN, shapes=SHP, showlegend=True,
    legend=dict(x=fx(477), y=fy(482), xanchor="left", yanchor="top", bgcolor="rgba(0,0,0,0)",
                font=dict(family=ARIAL, size=11, color="black"), tracegroupgap=0),
    font=dict(family=ARIAL, color="black"),
)
fig.write_html("out.html")
